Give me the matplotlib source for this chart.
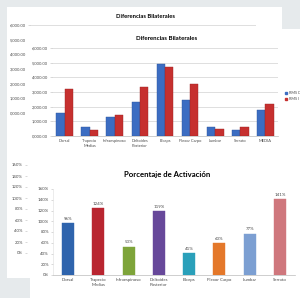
import numpy as np
import matplotlib.pyplot as plt

plt.rcParams['font.family'] = ['Lato', 'DejaVu Sans']

W, H = 300, 298

# datos: diferencias bilaterales (RMS derecho / izquierdo)
musculos = ['Dorsal', 'Trapecio\nMedias', 'Infraespinoso', 'Deltoides\nPosterior',
            'Biceps', 'Flexor Carpo', 'Lumbar', 'Serrato', 'MEDIA']
rms_d = [1580, 640, 1300, 2300, 4930, 2470, 590, 390, 1780]
rms_i = [3200, 390, 1420, 3310, 4700, 3540, 460, 620, 2210]
y_dif = [0, 1000, 2000, 3000, 4000, 5000, 6000]
y_dif_txt = ['0,000.00', '1,000.00', '2,000.00', '3,000.00', '4,000.00', '5,000.00', '6,000.00']

# datos: porcentaje de activacion
act_musculos = ['Dorsal', 'Trapecio\nMedias', 'Infraespinoso', 'Deltoides\nPosterior',
                'Biceps', 'Flexor Carpo', 'Lumbar', 'Serrato']
activacion = [96, 124, 53, 119, 41, 60, 77, 141]
act_colores = ['#2f64ad', '#b92530', '#7ea43a', '#67489a', '#2aa0ba', '#e4782a', '#7c9fd2', '#cf777d']
y_act = [0, 20, 40, 60, 80, 100, 120, 140, 160]
y_act_txt = [f'{v}%' for v in y_act]

gris_txt = '#4a4a4a'
azul, rojo = '#3c6dc2', '#c6302f'


def caja(x0, y0, x1, y1):
    return [x0 / W, 1 - y1 / H, (x1 - x0) / W, (y1 - y0) / H]


def panel(fig, x0, y0, x1, y1):
    p = fig.add_axes(caja(x0, y0, x1, y1))
    p.set_facecolor('white')
    p.set_xticks([])
    p.set_yticks([])
    for s in p.spines.values():
        s.set_visible(False)
    return p


def eje_y(ax, vals, txt, fs):
    ax.set_yticks(vals)
    ax.set_yticklabels(txt, fontsize=fs, color=gris_txt)
    ax.tick_params(axis='y', length=1.5, width=0.4, color='#bbbbbb', pad=1.5)
    for s in ax.spines.values():
        s.set_visible(False)


fig = plt.figure(figsize=(W / 100, H / 100), dpi=100)
fig.patch.set_facecolor('#e6eaec')

# --- grafico de atras (arriba) ---
panel(fig, 7, 7, 282, 165)
ax0 = fig.add_axes(caja(30, 25, 256, 113))
ax0.set_facecolor('none')
ax0.set_ylim(0, 6000)
ax0.set_xticks([])
eje_y(ax0, y_dif, y_dif_txt, 3.0)
ax0.grid(axis='y', color='#d9d9d9', lw=0.6)
fig.text(145 / W, 1 - 16 / H, 'Diferencias Bilaterales', fontsize=4.2, fontweight='bold',
         ha='center', va='center')

# --- grafico de atras (abajo) ---
panel(fig, 7, 145, 130, 278)
ax1 = fig.add_axes(caja(27, 165, 120, 253))
ax1.set_facecolor('none')
ax1.set_ylim(0, 160)
ax1.set_xticks([])
eje_y(ax1, y_act, y_act_txt, 3.1)

# --- grafico de adelante (arriba) ---
panel(fig, 28, 29, 300, 160)
ax2 = fig.add_axes(caja(52, 48, 278, 136))
ax2.set_facecolor('none')
x = np.arange(len(musculos))
ancho = 0.33
ax2.bar(x - ancho / 2, rms_d, ancho, color=azul, edgecolor='#2c559c', lw=0.3, zorder=3)
ax2.bar(x + ancho / 2, rms_i, ancho, color=rojo, edgecolor='#9c2424', lw=0.3, zorder=3)
ax2.set_xlim(-0.5, len(musculos) - 0.5)
ax2.set_ylim(0, 6000)
eje_y(ax2, y_dif, y_dif_txt, 3.0)
ax2.grid(axis='y', color='#d9d9d9', lw=0.6, zorder=0)
ax2.spines['bottom'].set_visible(True)
ax2.spines['bottom'].set_color('#bbbbbb')
ax2.spines['bottom'].set_linewidth(0.5)
ax2.set_xticks(x)
ax2.set_xticklabels(musculos, fontsize=2.9, color=gris_txt, linespacing=1.25)
ax2.tick_params(axis='x', length=0, pad=2)
fig.text(167 / W, 1 - 39 / H, 'Diferencias Bilaterales', fontsize=4.4, fontweight='bold',
         ha='center', va='center')
for yy, col, nom in [(93, azul, 'RMS D'), (99, rojo, 'RMS I')]:
    fig.patches.append(plt.Rectangle((285 / W, 1 - (yy + 1.2) / H), 2.4 / W, 2.4 / H,
                                     transform=fig.transFigure, color=col, figure=fig))
    fig.text(289 / W, 1 - yy / H, nom, fontsize=2.8, color=gris_txt, va='center')

# --- grafico de adelante (abajo) ---
panel(fig, 30, 154, 300, 298)
ax3 = fig.add_axes(caja(53, 189, 295, 275))
ax3.set_facecolor('none')
xa = np.arange(len(act_musculos))
barras = ax3.bar(xa, activacion, 0.4, color=act_colores, zorder=3)
for b, c in zip(barras, act_colores):
    b.set_edgecolor(c)
    b.set_linewidth(0.3)
for xi, v in zip(xa, activacion):
    ax3.text(xi, v + 4, f'{v}%', ha='center', va='bottom', fontsize=3.2, color=gris_txt)
ax3.set_xlim(-0.5, len(act_musculos) - 0.5)
ax3.set_ylim(0, 160)
eje_y(ax3, y_act, y_act_txt, 3.2)
ax3.spines['bottom'].set_visible(True)
ax3.spines['bottom'].set_color('#bbbbbb')
ax3.spines['bottom'].set_linewidth(0.5)
ax3.spines['left'].set_visible(True)
ax3.spines['left'].set_color('#dddddd')
ax3.spines['left'].set_linewidth(0.4)
ax3.set_xticks(xa)
ax3.set_xticklabels(act_musculos, fontsize=3.2, color=gris_txt, linespacing=1.25)
ax3.tick_params(axis='x', length=0, pad=2.5)
fig.text(167 / W, 1 - 174 / H, 'Porcentaje de Activación', fontsize=5.6, fontweight='bold',
         ha='center', va='center')

fig.savefig('out.png', dpi=100, facecolor=fig.get_facecolor())
